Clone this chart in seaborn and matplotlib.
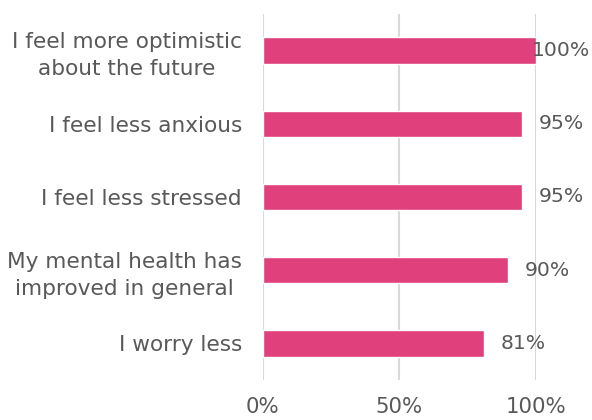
import matplotlib
matplotlib.use("Agg")
import matplotlib.pyplot as plt
import seaborn as sns
import pandas as pd

statements = [
    "I feel more optimistic\nabout the future",
    "I feel less anxious",
    "I feel less stressed",
    "My mental health has\nimproved in general",
    "I worry less",
]
shares = [100, 95, 95, 90, 81]
xticks = [0, 50, 100]
xtick_labels = ["0%", "50%", "100%"]

df = pd.DataFrame({"statement": statements, "share": shares})

sns.set_theme(style="white")
plt.rcParams["font.family"] = ["DejaVu Sans"]

fig = plt.figure(figsize=(5.92, 4.2), dpi=100)
ax = fig.add_axes([0.444, 0.095, 0.461, 0.872])

sns.barplot(data=df, x="share", y="statement", color="#E0407B",
            saturation=1, width=0.36, ax=ax, orient="h")

ax.set_xlim(0, 100)
ax.set_ylim(4.5, -0.5)
ax.set_xticks(xticks)
ax.set_xticklabels(xtick_labels)
ax.xaxis.grid(True, color="#D9D9D9", linewidth=1.5)
ax.set_axisbelow(True)
for s in ax.spines.values():
    s.set_visible(False)
ax.set_xlabel("")
ax.set_ylabel("")
ax.tick_params(axis="y", length=0, pad=15, labelsize=15.6, labelcolor="#595959")
ax.tick_params(axis="x", length=0, pad=12, labelsize=15.3, labelcolor="#595959")
for lbl in ax.get_yticklabels():
    lbl.set_horizontalalignment("right")
    lbl.set_multialignment("center")
    lbl.set_linespacing(1.4)

for i, v in enumerate(shares):
    off = -3 if v >= 100 else 12
    ax.annotate(f"{v}%", xy=(v, i), xytext=(off, 0), textcoords="offset points",
                ha="left", va="center", fontsize=14.7, color="#595959",
                annotation_clip=False)

fig.savefig("out.png", dpi=100)
